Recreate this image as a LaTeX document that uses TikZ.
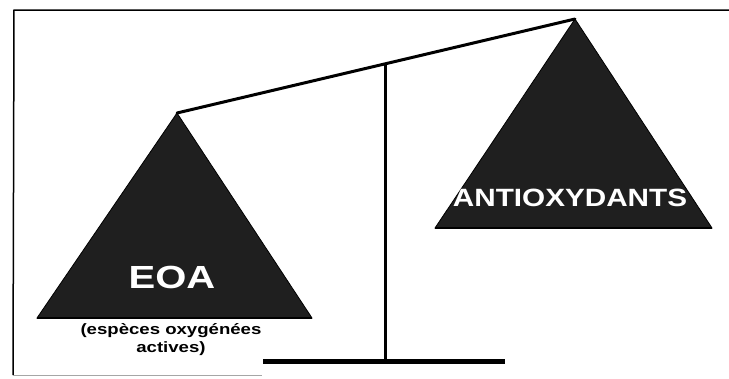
\documentclass[tikz,border=0pt]{standalone}
\usepackage{fontspec}
\setmainfont{Liberation Sans}
\begin{document}
\begin{tikzpicture}[x=1pt, y=-1pt,
    plateau/.style={fill=black!88, draw=black, line width=0.8pt, line join=miter},
    titre/.style={text=white, inner sep=0pt, xscale=1.25}]
    \useasboundingbox (0,0) rectangle (729,378);

    % Cadre
    \draw[line width=1.5pt] (729,10) -- (14,10) -- (13,375);
    \draw[line width=1pt, black!35] (13,375) -- (262,375);

    \coordinate (G) at (177,113);
    \coordinate (D) at (575,19);
    \coordinate (P) at (385,64);
    \coordinate (S) at (385,361);

    % Plateau gauche
    \draw[plateau] (G) -- (37,318) -- (312,318) -- cycle;
    \draw[line width=2.2pt] (37,318) -- (312,318);
    \node[titre, font=\bfseries\fontsize{32}{32}\selectfont] (eoa) at (172,277) {EOA};
    \node[inner sep=0pt, xscale=1.24, align=center,
          font=\bfseries\fontsize{15}{18}\selectfont] (legende) at (171,340)
        {(espèces oxygénées\\actives)};

    % Plateau droit
    \draw[plateau] (D) -- (435,228) -- (712,228) -- cycle;
    \draw[line width=2.2pt] (435,228) -- (712,228);
    \node[titre, xscale=0.95, font=\bfseries\fontsize{25}{25}\selectfont] (anti) at (570,198) {ANTIOXYDANTS};

    % Fléau et pied
    \draw[line width=3pt, line cap=round] (G) -- (D);
    \draw[line width=3pt] (P) -- (S);
    \draw[line width=5pt] (263,361) -- (505,361);
\end{tikzpicture}
\end{document}
